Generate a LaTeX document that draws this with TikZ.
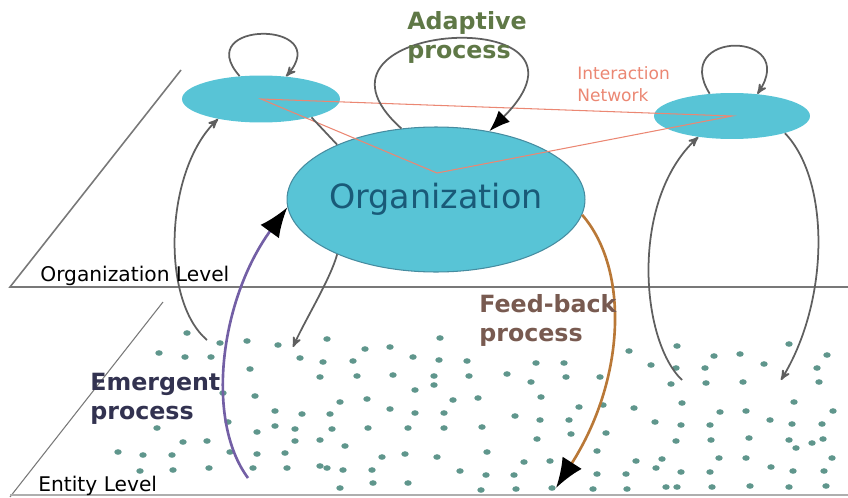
\documentclass[tikz,border=0pt]{standalone}
\usepackage{fontspec}
\setmainfont{DejaVu Sans}
\usetikzlibrary{arrows,arrows.meta,shapes}

\definecolor{agentfill}{RGB}{88,196,214}
\definecolor{orgline}{RGB}{70,140,160}
\definecolor{orgtextcol}{RGB}{25,90,120}
\definecolor{linkgray}{RGB}{95,95,95}
\definecolor{planegray}{RGB}{120,120,120}
\definecolor{dotcol}{RGB}{95,150,140}
\definecolor{netcol}{RGB}{235,135,115}
\definecolor{adaptcol}{RGB}{95,120,70}
\definecolor{emergecol}{RGB}{50,50,80}
\definecolor{emergeline}{RGB}{115,95,165}
\definecolor{feedcol}{RGB}{120,90,80}
\definecolor{feedline}{RGB}{185,120,55}

\tikzstyle{agent}=[ellipse,fill=agentfill,inner sep=0pt]
\tikzstyle{plane}=[draw=planegray,line width=0.6pt]
\tikzstyle{link}=[draw=linkgray,line width=1pt]
\tikzstyle{net}=[draw=netcol,line width=0.6pt]
\tikzstyle{entity}=[fill=dotcol]
\tikzstyle{bighead}=[-{Latex[length=17pt,width=13pt,color=black]}]
\tikzstyle{procname}=[font=\bfseries\fontsize{13.5}{16.5}\selectfont,align=left,anchor=west,inner sep=0pt]
\tikzstyle{levelname}=[font=\fontsize{11.5}{14}\selectfont,anchor=west,inner sep=0pt]

\begin{document}
\begin{tikzpicture}[x=0.02cm,y=-0.02cm,>=stealth']
  \useasboundingbox (0,0) rectangle (848,497);

  % the two levels
  \draw[plane,line width=0.9pt] (181,70) -- (10,287) -- (848,287);
  \draw[plane] (163,302) -- (10,497);
  \draw[plane,draw=planegray!60] (10,495) -- (848,495);

  % entities
  \foreach \x/\y in {187/333,220/343,247/341,278/345,327/339,365/349,390/347,413/357,
    159/353,185/357,211/357,300/358,323/362,353/361,250/369,320/377,357/376,393/375,
    415/390,223/393,255/396,340/402,367/399,390/409,415/413,275/411,302/414,330/414,
    228/422,157/428,257/432,275/426,295/429,332/429,368/428,408/428,183/442,207/441,
    295/441,320/440,345/446,118/452,143/455,172/455,230/452,257/454,285/453,382/457,
    405/454,140/471,173/470,209/468,253/468,287/468,320/466,327/468,343/470,372/470,
    340/488,373/483,408/483,
    440/338,439/360,467/361,536/363,564/363,434/376,434/385,469/376,507/374,531/382,
    566/377,600/377,629/351,677/346,651/365,676/368,714/356,740/354,705/368,764/364,
    789/344,827/355,817/368,671/384,706/383,743/382,819/382,453/400,478/398,541/397,
    579/407,603/405,634/408,682/403,794/402,444/413,515/416,540/420,569/420,444/428,
    482/427,571/434,606/433,537/439,655/422,681/425,710/425,720/412,746/411,770/420,
    792/424,822/424,833/411,676/441,711/440,749/438,789/440,796/448,812/443,823/439,
    437/457,487/452,524/462,550/461,597/451,636/461,662/459,719/458,746/458,832/458,
    460/471,486/475,514/475,597/474,626/474,656/468,681/472,710/472,771/467,793/471,
    824/471,481/490,516/489,552/488,593/489,627/489,666/487,677/487,712/487,750/486,
    789/487,826/486}
    \fill[entity] (\x,\y) ellipse [x radius=2.1pt,y radius=1.6pt];

  % organization level
  \node[agent,minimum width=3.16cm,minimum height=0.94cm] (le) at (261,99) {};
  \node[agent,minimum width=3.12cm,minimum height=0.92cm] (re) at (732,116) {};
  \node[agent,draw=orgline,line width=0.6pt,minimum width=5.96cm,minimum height=2.9cm,
    label={[font=\fontsize{19}{22}\selectfont,text=orgtextcol]center:Organization}] (org) at (436,199.5) {};

  % interaction network
  \coordinate (hub) at (437,173);
  \draw[net] (le.center) -- (re.center) -- (hub) -- cycle;

  % self loops
  \draw[link,->] (le.133) .. controls (190,20) and (335,20) .. (le.42);
  \draw[link,->] (re.135) .. controls (670,30) and (800,30) .. (re.41);

  % adaptive process
  \draw[link,-{Latex[length=12pt,width=9pt,color=black]}] (org.116) .. controls (280,20) and (620,0) .. (org.52);

  % links between the levels
  \coordinate (leftfoot) at (207,340);
  \coordinate (leftdrop) at (293,347);
  \coordinate (rightfoot) at (682,380);
  \coordinate (rightdrop) at (781,380);
  \draw[link] (le.340) -- (org.151);
  \draw[link,->] (leftfoot) .. controls (160,300) and (165,170) .. (le.205);
  \draw[link,->] (org.209) .. controls (330,280) and (305,320) .. (leftdrop);
  \draw[link,->] (rightfoot) .. controls (640,340) and (630,200) .. (re.212);
  \draw[link,->] (re.342) .. controls (830,180) and (830,300) .. (rightdrop);

  % emergent and feed-back
  \coordinate (emerge) at (248,478);
  \coordinate (feedend) at (556,488);
  \draw[draw=emergeline,line width=1.5pt,bighead] (emerge) .. controls (205,420) and (220,300) .. (org.183);
  \draw[draw=feedline,line width=1.5pt,bighead] (org.354) .. controls (630,270) and (625,380) .. (feedend);

  % labels
  \node[procname,text=adaptcol] (adaptive) at (407,37) {Adaptive\\process};
  \node[procname,text=emergecol] (emergent) at (90,399) {Emergent\\process};
  \node[procname,text=feedcol] (feedback) at (479,320) {Feed-back\\process};
  \node[font=\fontsize{9.7}{12.5}\selectfont,text=netcol,align=left,anchor=west,inner sep=0pt] (netname) at (577,84) {Interaction\\Network};
  \node[levelname] (orglevel) at (40,276) {Organization Level};
  \node[levelname] (entlevel) at (38,486) {Entity Level};
\end{tikzpicture}
\end{document}
